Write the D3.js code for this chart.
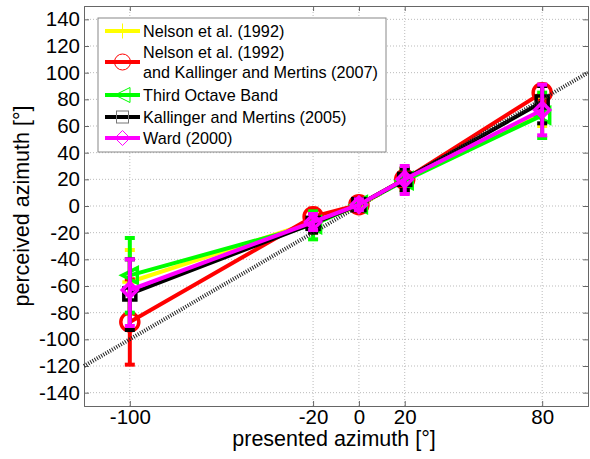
<!DOCTYPE html>
<html><head><meta charset="utf-8">
<script src="https://cdn.jsdelivr.net/npm/d3@7"></script>
<style>body{margin:0;background:#fff}svg{display:block}text{font-family:"Liberation Sans",Arial,sans-serif}</style>
</head><body><svg id="c" width="590" height="459"></svg>
<script>
const xCats = [-100, -20, 0, 20, 80];
const xTicks = [-100, -20, 0, 20, 80];
const yTicks = [-140,-120,-100,-80,-60,-40,-20,0,20,40,60,80,100,120,140];
const seriesNames = ["Nelson et al. (1992)", "Nelson et al. (1992)|and Kallinger and Mertins (2007)", "Third Octave Band", "Kallinger and Mertins (2005)", "Ward (2000)"];
const seriesColors = ["#ffff00", "#ff0000", "#00ff00", "#000000", "#ff00ff"];
const seriesMarkers = ["plus", "circle", "triangle", "square", "diamond"];
const yellowMean = [-57, -12, 0, 20, 70];
const yellowLo   = [-81, -20, -3, 12, 60];
const yellowHi   = [-33, -4, 3, 28, 80];
const redMean = [-87, -8, 1, 20, 85];
const redLo   = [-119, -15, -3, 12, 78];
const redHi   = [-55, -2, 5, 28, 91];
const greenMean = [-52, -14, 1, 19, 68];
const greenLo   = [-80, -25, -3, 10, 51];
const greenHi   = [-24, -4, 5, 28, 85];
const blackMean = [-66, -13, 1, 20, 78];
const blackLo   = [-93, -20, -3, 12, 62];
const blackHi   = [-40, -6, 5, 28, 90];
const magentaMean = [-63, -12, 1, 20, 72];
const magentaLo   = [-90, -18, -3, 9, 53];
const magentaHi   = [-40, -6, 5, 30, 91];
const means = [yellowMean, redMean, greenMean, blackMean, magentaMean];
const los = [yellowLo, redLo, greenLo, blackLo, magentaLo];
const his = [yellowHi, redHi, greenHi, blackHi, magentaHi];
const refLine = [-120, 100];

const svg = d3.select("#c");
const x = d3.scaleLinear().domain([-120, 100]).range([84, 588]);
const y = d3.scaleLinear().domain([-150, 150]).range([406, 6]);
const fmt = d => String(d);

// grid
const grid = svg.append("g");
grid.selectAll("line.gy").data(yTicks).join("line")
  .attr("x1", x.range()[0]).attr("x2", x.range()[1])
  .attr("y1", d => y(d)).attr("y2", d => y(d))
  .attr("stroke", "#bbb").attr("stroke-width", 1).attr("stroke-dasharray", "1,2");
grid.selectAll("line.gx").data(xTicks).join("line")
  .attr("y1", y.range()[0]).attr("y2", y.range()[1])
  .attr("x1", d => x(d)).attr("x2", d => x(d))
  .attr("stroke", "#bbb").attr("stroke-width", 1).attr("stroke-dasharray", "1,2");

// axes
const axL = svg.append("g").attr("transform", `translate(${x.range()[0]},0)`)
  .call(d3.axisLeft(y).tickValues(yTicks).tickSize(-5).tickPadding(4).tickFormat(fmt));
const axR = svg.append("g").attr("transform", `translate(${x.range()[1]},0)`)
  .call(d3.axisRight(y).tickValues(yTicks).tickSize(-5).tickFormat(""));
const axB = svg.append("g").attr("transform", `translate(0,${y.range()[0]})`)
  .call(d3.axisBottom(x).tickValues(xTicks).tickSize(-5).tickPadding(3).tickFormat(fmt));
const axT = svg.append("g").attr("transform", `translate(0,${y.range()[1]})`)
  .call(d3.axisTop(x).tickValues(xTicks).tickSize(-5).tickFormat(""));
[axL, axR, axB, axT].forEach(a => {
  a.selectAll("path,line").attr("stroke", "#666");
  a.selectAll("text").attr("fill", "#000").attr("font-size", 20.5).attr("font-family", '"Liberation Sans",Arial,sans-serif');
});

function marker(g, type, cx, cy, color, size, sw) {
  const s = size;
  if (type === "plus") {
    g.append("path").attr("d", `M${cx - s/2},${cy}H${cx + s/2}M${cx},${cy - s/2}V${cy + s/2}`)
      .attr("stroke", color).attr("stroke-width", sw).attr("fill", "none");
  } else if (type === "circle") {
    g.append("circle").attr("cx", cx).attr("cy", cy).attr("r", s/2)
      .attr("stroke", color).attr("stroke-width", sw).attr("fill", "none");
  } else if (type === "triangle") {
    g.append("path").attr("d", `M${cx - s/2},${cy}L${cx + s/2},${cy - s/2}L${cx + s/2},${cy + s/2}Z`)
      .attr("stroke", color).attr("stroke-width", sw).attr("fill", "none");
  } else if (type === "square") {
    g.append("rect").attr("x", cx - s*0.4).attr("y", cy - s*0.4).attr("width", s*0.8).attr("height", s*0.8)
      .attr("stroke", color).attr("stroke-width", sw).attr("fill", "none");
  } else if (type === "diamond") {
    g.append("path").attr("d", `M${cx},${cy - s/2}L${cx + s/2},${cy}L${cx},${cy + s/2}L${cx - s/2},${cy}Z`)
      .attr("stroke", color).attr("stroke-width", sw).attr("fill", "none");
  }
}

const line = d3.line().x(d => x(d[0])).y(d => y(d[1]));
function drawSeries(i) {
  const g = svg.append("g");
  const col = seriesColors[i];
  g.append("path").datum(xCats.map((c, k) => [c, means[i][k]]))
    .attr("d", line).attr("fill", "none").attr("stroke", col).attr("stroke-width", 4).attr("stroke-linejoin", "round");
  xCats.forEach((c, k) => {
    const cx = x(c);
    g.append("line").attr("x1", cx).attr("x2", cx).attr("y1", y(los[i][k])).attr("y2", y(his[i][k]))
      .attr("stroke", col).attr("stroke-width", 4);
    [los[i][k], his[i][k]].forEach(v => {
      g.append("line").attr("x1", cx - 5).attr("x2", cx + 5).attr("y1", y(v)).attr("y2", y(v))
        .attr("stroke", col).attr("stroke-width", 4);
    });
    marker(g, seriesMarkers[i], cx, y(means[i][k]), col, i === 1 ? 18 : 15, 3.5);
  });
}
[0, 1, 2, 3].forEach(drawSeries);

// reference diagonal
svg.append("path").datum(refLine.map(v => [v, v])).attr("d", line)
  .attr("stroke", "#222").attr("stroke-width", 4).attr("stroke-dasharray", "1,1.5").attr("fill", "none");
drawSeries(4);

// legend
const lg = svg.append("g");
lg.append("rect").attr("x", 98).attr("y", 18).attr("width", 288).attr("height", 134)
  .attr("fill", "#fff").attr("stroke", "#888").attr("stroke-width", 1);
const rowY = [31, 62, 95, 117, 138];
seriesNames.forEach((name, i) => {
  const ry = rowY[i];
  lg.append("line").attr("x1", 105).attr("x2", 140).attr("y1", ry).attr("y2", ry)
    .attr("stroke", seriesColors[i]).attr("stroke-width", 4);
  const mc = i === 3 ? "#777" : seriesColors[i];
  marker(lg, seriesMarkers[i], 122.5, ry, mc, i === 1 ? 16 : 15, 1);
  const parts = name.split("|");
  parts.forEach((p, j) => {
    lg.append("text").attr("x", 143).attr("y", ry + 6 + (parts.length > 1 ? (j - 0.5) * 20 : 0))
      .attr("font-size", 16.2).attr("fill", "#000").text(p);
  });
});

// axis labels
svg.append("text").attr("x", 334).attr("y", 446).attr("text-anchor", "middle")
  .attr("font-size", 21.5).text("presented azimuth [°]");
svg.append("text").attr("transform", "translate(29,206) rotate(-90)").attr("text-anchor", "middle")
  .attr("font-size", 21.5).text("perceived azimuth [°]");
</script></body></html>
